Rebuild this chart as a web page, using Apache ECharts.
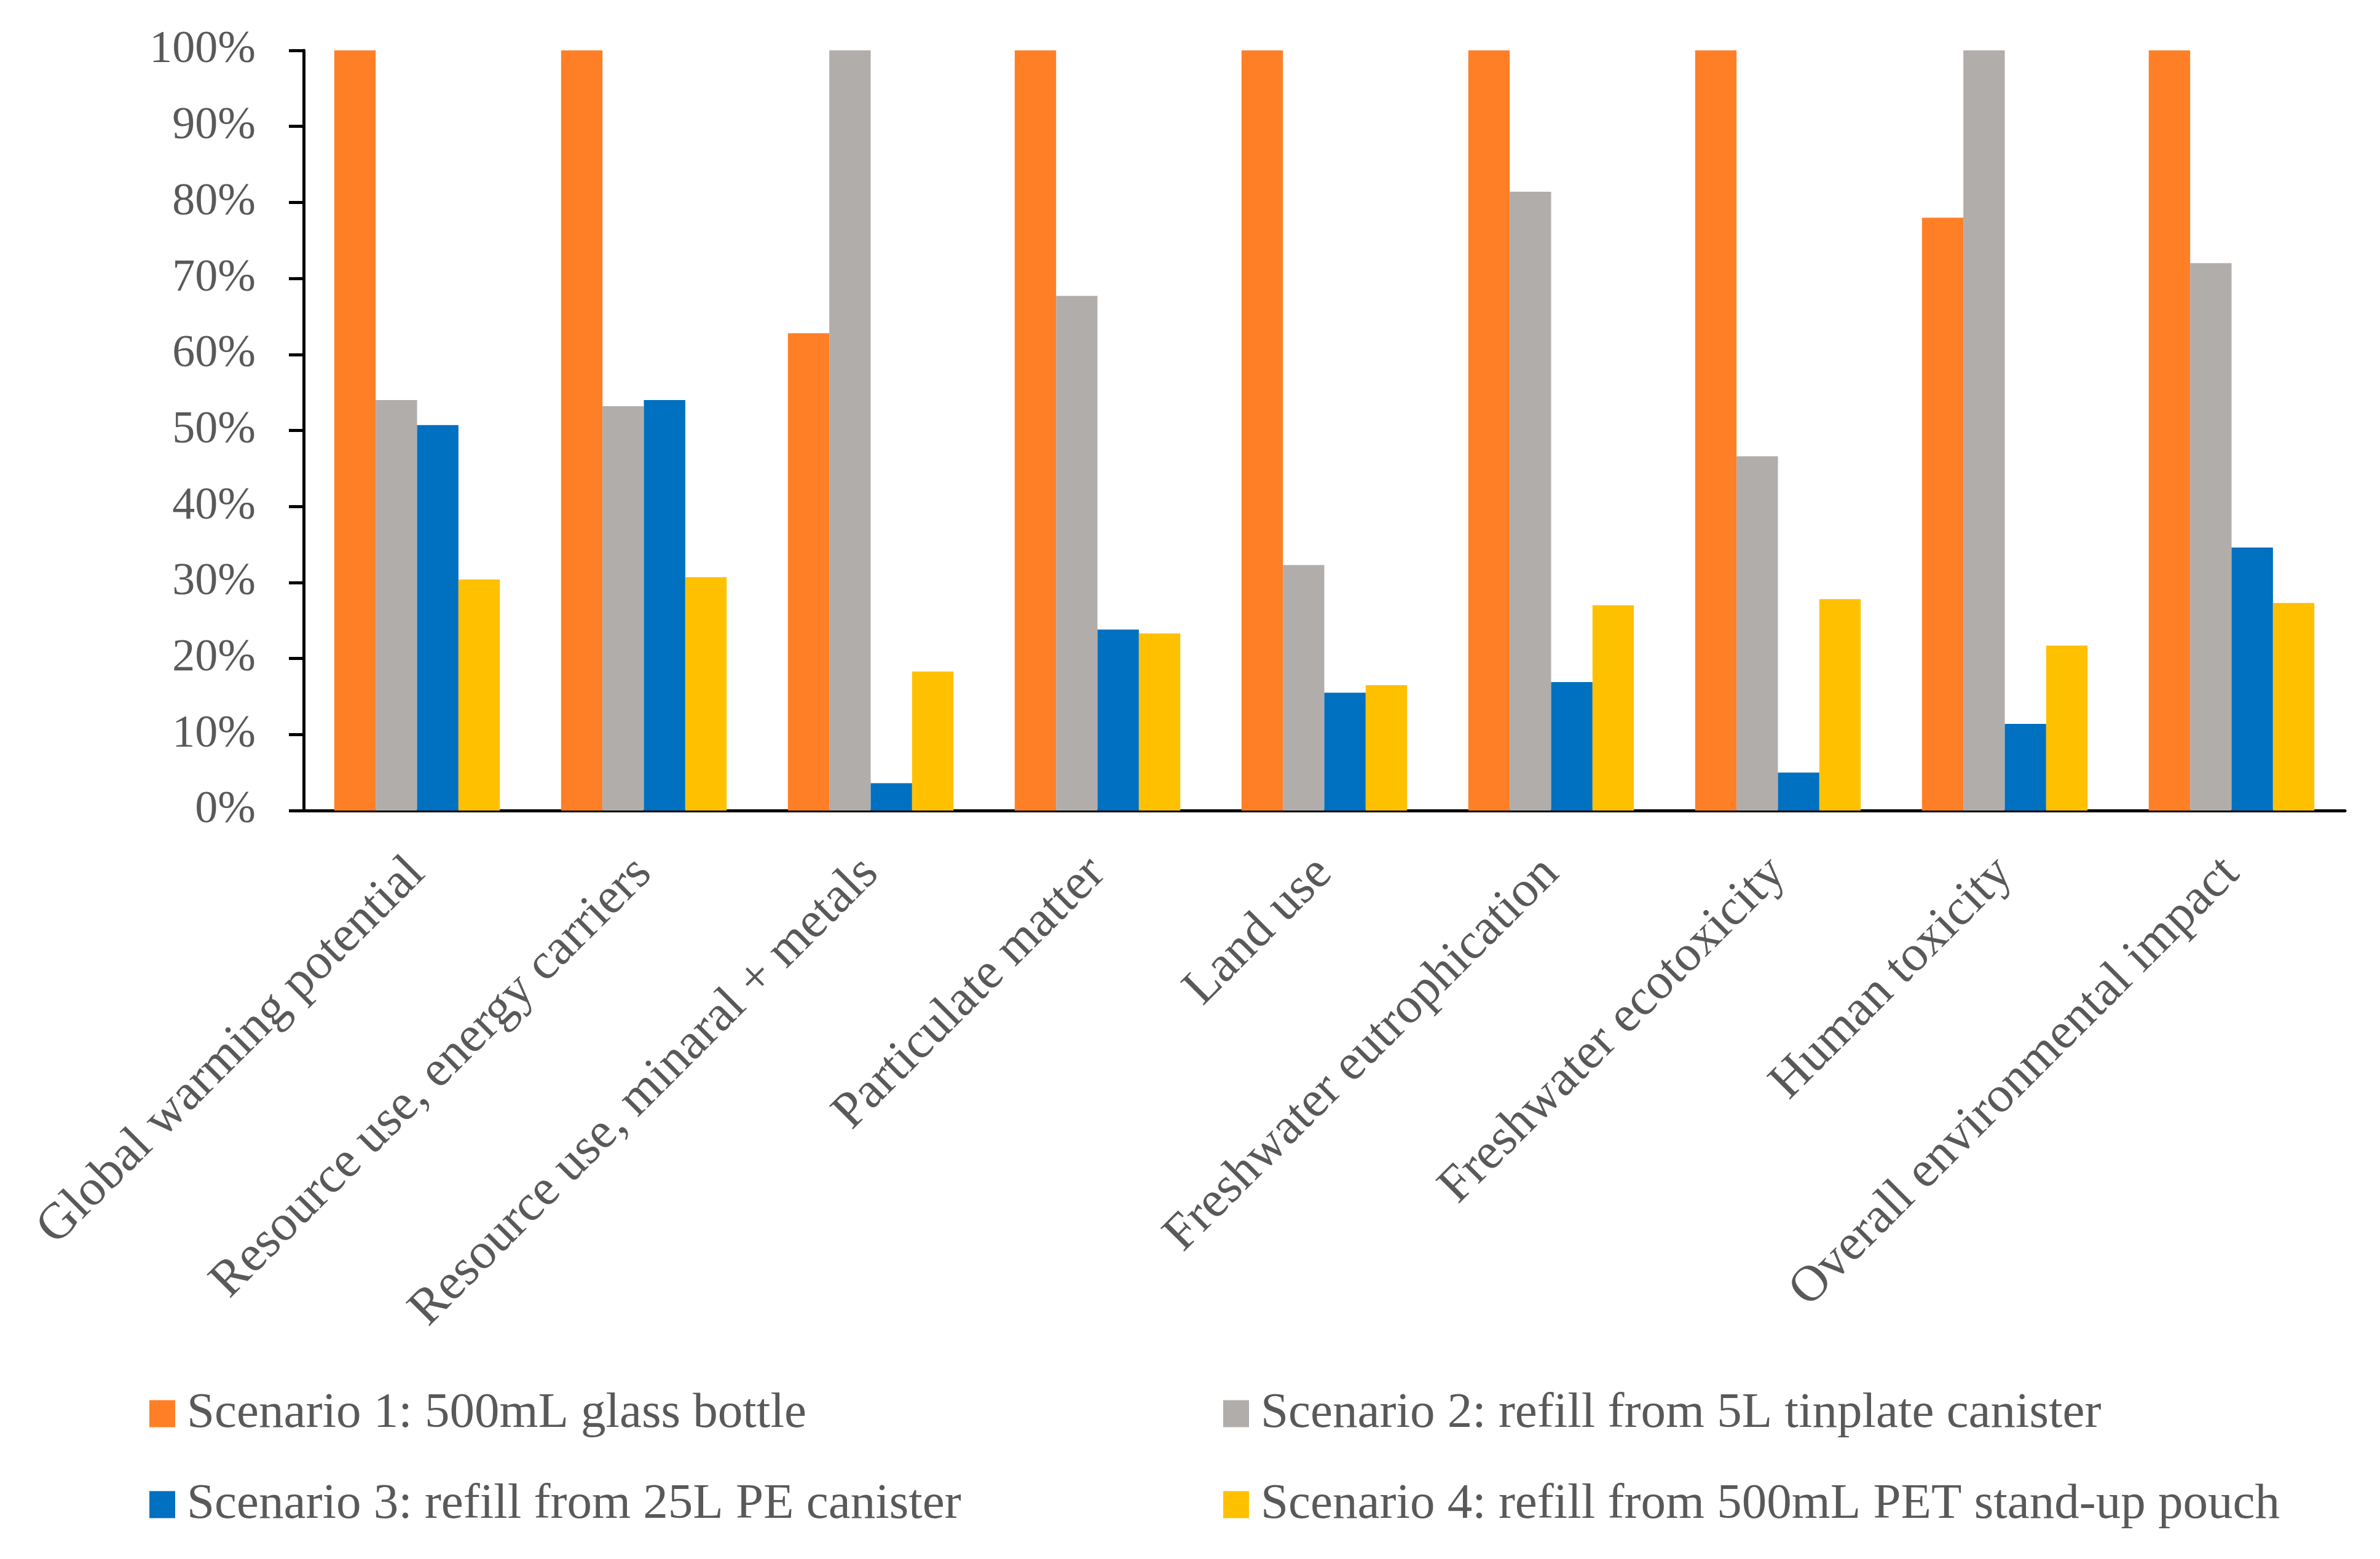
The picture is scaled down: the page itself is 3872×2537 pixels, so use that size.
<!DOCTYPE html>
<html>
<head>
<meta charset="utf-8">
<script src="https://cdn.jsdelivr.net/npm/echarts@6/dist/echarts.min.js"></script>
<style>
  html, body { margin: 0; padding: 0; background: #fff; }
  #chart { width: 3872px; height: 2537px; }
</style>
</head>
<body>
<div id="chart"></div>
<script>
// Impact categories (x axis)
const categories = [
  'Global warming potential',
  'Resource use, energy carriers',
  'Resource use, minaral + metals',
  'Particulate matter',
  'Land use',
  'Freshwater eutrophication',
  'Freshwater ecotoxicity',
  'Human toxicity',
  'Overall environmental impact'
]

// Scenario names
const scenarioNames = [
  'Scenario 1: 500mL glass bottle',
  'Scenario 2: refill from 5L tinplate canister',
  'Scenario 3: refill from 25L PE canister',
  'Scenario 4: refill from 500mL PET stand-up pouch'
]

// Relative impact in %
const scenario1 = [100, 100, 62.8, 100, 100, 100, 100, 78.0, 100]
const scenario2 = [54.0, 53.2, 100, 67.7, 32.3, 81.4, 46.6, 100, 72.0]
const scenario3 = [50.7, 54.0, 3.6, 23.8, 15.5, 16.9, 5.0, 11.4, 34.6]
const scenario4 = [30.4, 30.7, 18.3, 23.3, 16.5, 27.0, 27.8, 21.7, 27.3]

const yTicks = [0, 10, 20, 30, 40, 50, 60, 70, 80, 90, 100]

const colors = ['#FF7F27', '#B1ADAB', '#0070C0', '#FFC000']
const textColor = '#595959'
const fontFamily = '"Liberation Serif", "DejaVu Serif", serif'

const chart = echarts.init(document.getElementById('chart'))

const seriesData = [scenario1, scenario2, scenario3, scenario4]

const legendText = { fontSize: 81, color: textColor, fontFamily: fontFamily, padding: [0, 0, 0, 14] }

chart.setOption({
  animation: false,
  color: colors,
  textStyle: { fontFamily: fontFamily, color: textColor },
  grid: {
    left: 494,
    right: 57,
    top: 82,
    bottom: 1218
  },
  legend: [
    {
      data: [scenarioNames[0], scenarioNames[2]],
      orient: 'vertical',
      left: 238,
      top: 2255,
      itemWidth: 42,
      itemHeight: 44,
      itemGap: 67,
      icon: 'rect',
      textStyle: legendText
    },
    {
      data: [scenarioNames[1], scenarioNames[3]],
      orient: 'vertical',
      left: 1985,
      top: 2255,
      itemWidth: 42,
      itemHeight: 44,
      itemGap: 67,
      icon: 'rect',
      textStyle: legendText
    }
  ],
  xAxis: {
    type: 'category',
    data: categories,
    axisLine: { lineStyle: { color: '#000', width: 5 } },
    axisTick: { show: false },
    axisLabel: {
      rotate: 45,
      margin: 90,
      interval: 0,
      fontSize: 83,
      color: textColor,
      fontFamily: fontFamily
    }
  },
  yAxis: {
    type: 'value',
    min: yTicks[0],
    max: yTicks[yTicks.length - 1],
    interval: 10,
    splitLine: { show: false },
    axisLine: { show: true, lineStyle: { color: '#000', width: 5 } },
    axisTick: { show: true, inside: false, length: 24, lineStyle: { color: '#000', width: 5 } },
    axisLabel: {
      formatter: '{value}%',
      margin: 78,
      fontSize: 74,
      color: textColor,
      fontFamily: fontFamily
    }
  },
  series: seriesData.map((values, i) => ({
    name: scenarioNames[i],
    type: 'bar',
    data: values,
    barGap: '0%',
    barCategoryGap: '27%',
    itemStyle: { color: colors[i] }
  }))
})
</script>
</body>
</html>
